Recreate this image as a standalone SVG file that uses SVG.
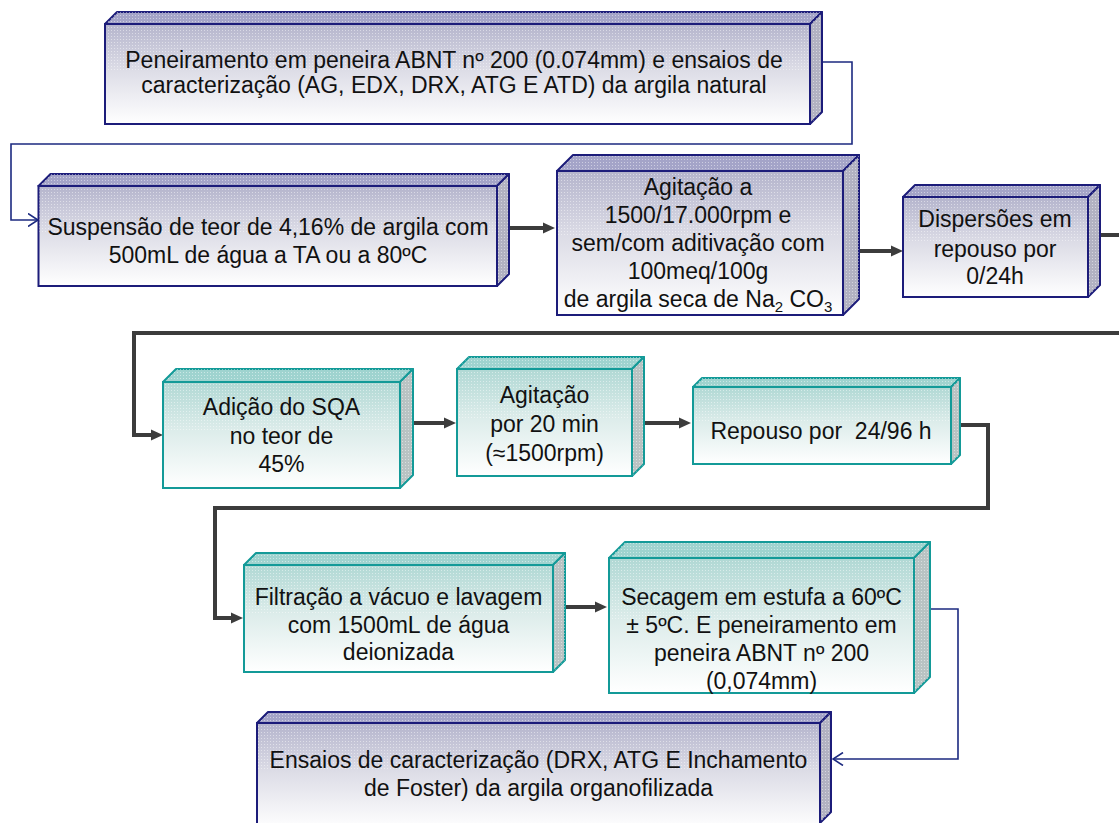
<svg xmlns="http://www.w3.org/2000/svg" width="1119" height="823" viewBox="0 0 1119 823">
<style>
  .t { font-family: "Liberation Sans", Arial, sans-serif; font-size: 23px; fill: #111; text-anchor: middle; }
  .nv .front { fill: url(#gNavy); stroke: #1c1c7a; stroke-width: 2; }
  .nv .top { fill: #a4a4c8; stroke: #1c1c7a; stroke-width: 2; stroke-linejoin: round; }
  .nv .side { fill: #b2b2c2; stroke: #1c1c7a; stroke-width: 2; stroke-linejoin: round; }
  .tl .front { fill: url(#gTeal); stroke: #139a98; stroke-width: 2; }
  .tl .top { fill: #9fd3cf; stroke: #139a98; stroke-width: 2; stroke-linejoin: round; }
  .tl .side { fill: #b9c3c3; stroke: #139a98; stroke-width: 2; stroke-linejoin: round; }
  .dots { fill: url(#pDots); stroke: none; }
  .thick { fill: none; stroke: #3c3c3c; stroke-width: 4; }
  .thin { fill: none; stroke: #1c2a80; stroke-width: 1.6; }
</style>
<defs>
  <linearGradient id="gNavy" x1="0" y1="0" x2="0" y2="1">
    <stop offset="0" stop-color="#b4b4cc"/>
    <stop offset="0.45" stop-color="#dcdce6"/>
    <stop offset="1" stop-color="#ffffff"/>
  </linearGradient>
  <linearGradient id="gTeal" x1="0" y1="0" x2="0" y2="1">
    <stop offset="0" stop-color="#b0d8d4"/>
    <stop offset="0.45" stop-color="#dcecea"/>
    <stop offset="1" stop-color="#ffffff"/>
  </linearGradient>
  <pattern id="pDots" width="3" height="3" patternUnits="userSpaceOnUse">
    <rect x="0" y="0" width="1" height="1" fill="#ffffff" fill-opacity="0.45"/>
  </pattern>
  <marker id="aThick" markerUnits="userSpaceOnUse" markerWidth="13" markerHeight="12" refX="4" refY="6" orient="auto">
    <path d="M0,0.5 L12,6 L0,11.5 z" fill="#3c3c3c"/>
  </marker>
  <marker id="aThin" markerUnits="userSpaceOnUse" markerWidth="12" markerHeight="14" refX="10.5" refY="7" orient="auto">
    <path d="M0.5,0.5 L10.5,7 L0.5,13.5" fill="none" stroke="#1c2a80" stroke-width="1.6"/>
  </marker>
</defs>
<rect x="0" y="0" width="1119" height="823" fill="#ffffff"/>

<g id="connectors">
  <path class="thin" d="M822,62 H852 V144 H11 V220 H38" marker-end="url(#aThin)"/>
  <path class="thick" d="M509,228 H547" marker-end="url(#aThick)"/>
  <path class="thick" d="M858,251 H895" marker-end="url(#aThick)"/>
  <path class="thick" d="M1100,235 H1125 V333 H134 V435 H155" marker-end="url(#aThick)"/>
  <path class="thick" d="M413,423 H448" marker-end="url(#aThick)"/>
  <path class="thick" d="M644,423 H683" marker-end="url(#aThick)"/>
  <path class="thick" d="M960,425 H988 V508 H215 V618 H235" marker-end="url(#aThick)"/>
  <path class="thick" d="M565,607 H599" marker-end="url(#aThick)"/>
  <path class="thin" d="M930,609 H958 V759 H833" marker-end="url(#aThin)"/>
</g>

<g id="n1" class="nv">
  <polygon class="top" points="105,24 117,12 822,12 810,24"/>
  <polygon class="dots" points="105,24 117,12 822,12 810,24"/>
  <polygon class="side" points="810,24 822,12 822,112 810,124"/>
  <polygon class="dots" points="810,24 822,12 822,112 810,124"/>
  <rect class="front" x="105" y="24" width="705" height="100"/>
  <rect class="dots" x="106" y="25" width="703" height="45"/>
  <text class="t" x="454" y="68">Peneiramento em peneira ABNT nº 200 (0.074mm) e ensaios de</text>
  <text class="t" x="454" y="93">caracterização (AG, EDX, DRX, ATG E ATD) da argila natural</text>
</g>

<g id="n2" class="nv">
  <polygon class="top" points="38.5,186 50.5,174 509,174 497,186"/>
  <polygon class="dots" points="38.5,186 50.5,174 509,174 497,186"/>
  <polygon class="side" points="497,186 509,174 509,274 497,286"/>
  <polygon class="dots" points="497,186 509,174 509,274 497,286"/>
  <rect class="front" x="38.5" y="186" width="458.5" height="100"/>
  <rect class="dots" x="39.5" y="187" width="456.5" height="45"/>
  <text class="t" x="268" y="235">Suspensão de teor de 4,16% de argila com</text>
  <text class="t" x="268" y="263">500mL de água a TA ou a 80ºC</text>
</g>

<g id="n3" class="nv">
  <polygon class="top" points="557,171 573,155 859,155 843,171"/>
  <polygon class="dots" points="557,171 573,155 859,155 843,171"/>
  <polygon class="side" points="843,171 859,155 859,299 843,315"/>
  <polygon class="dots" points="843,171 859,155 859,299 843,315"/>
  <rect class="front" x="557" y="171" width="286" height="144"/>
  <rect class="dots" x="558" y="172" width="284" height="65"/>
  <text class="t" x="698" y="195">Agitação a</text>
  <text class="t" x="698" y="223">1500/17.000rpm e</text>
  <text class="t" x="698" y="251">sem/com aditivação com</text>
  <text class="t" x="698" y="279">100meq/100g</text>
  <text class="t" x="698" y="307">de argila seca de Na<tspan font-size="15" dy="5">2</tspan><tspan dy="-5"> CO</tspan><tspan font-size="15" dy="5">3</tspan></text>
</g>

<g id="n4" class="nv">
  <polygon class="top" points="903,197 915,185 1100,185 1088,197"/>
  <polygon class="dots" points="903,197 915,185 1100,185 1088,197"/>
  <polygon class="side" points="1088,197 1100,185 1100,285 1088,297"/>
  <polygon class="dots" points="1088,197 1100,185 1100,285 1088,297"/>
  <rect class="front" x="903" y="197" width="185" height="100"/>
  <rect class="dots" x="904" y="198" width="183" height="45"/>
  <text class="t" x="995" y="227">Dispersões em</text>
  <text class="t" x="995" y="257">repouso por</text>
  <text class="t" x="995" y="284">0/24h</text>
</g>

<g id="n5" class="tl">
  <polygon class="top" points="163,382 176,369 413,369 400,382"/>
  <polygon class="dots" points="163,382 176,369 413,369 400,382"/>
  <polygon class="side" points="400,382 413,369 413,475 400,488"/>
  <polygon class="dots" points="400,382 413,369 413,475 400,488"/>
  <rect class="front" x="163" y="382" width="237" height="106"/>
  <rect class="dots" x="164" y="383" width="235" height="48"/>
  <text class="t" x="281.5" y="415">Adição do SQA</text>
  <text class="t" x="281.5" y="444">no teor de</text>
  <text class="t" x="281.5" y="472">45%</text>
</g>

<g id="n6" class="tl">
  <polygon class="top" points="457,369 469,357 644,357 632,369"/>
  <polygon class="dots" points="457,369 469,357 644,357 632,369"/>
  <polygon class="side" points="632,369 644,357 644,464 632,476"/>
  <polygon class="dots" points="632,369 644,357 644,464 632,476"/>
  <rect class="front" x="457" y="369" width="175" height="107"/>
  <rect class="dots" x="458" y="370" width="173" height="48"/>
  <text class="t" x="544.5" y="403">Agitação</text>
  <text class="t" x="544.5" y="432">por 20 min</text>
  <text class="t" x="544.5" y="461">(≈1500rpm)</text>
</g>

<g id="n7" class="tl">
  <polygon class="top" points="693,387 702,378 960,378 951,387"/>
  <polygon class="dots" points="693,387 702,378 960,378 951,387"/>
  <polygon class="side" points="951,387 960,378 960,455 951,464"/>
  <polygon class="dots" points="951,387 960,378 960,455 951,464"/>
  <rect class="front" x="693" y="387" width="258" height="77"/>
  <rect class="dots" x="694" y="388" width="256" height="35"/>
  <text class="t" x="821" y="439" style="white-space:pre">Repouso por  24/96 h</text>
</g>

<g id="n8" class="tl">
  <polygon class="top" points="244,565 256,553 565,553 553,565"/>
  <polygon class="dots" points="244,565 256,553 565,553 553,565"/>
  <polygon class="side" points="553,565 565,553 565,660 553,672"/>
  <polygon class="dots" points="553,565 565,553 565,660 553,672"/>
  <rect class="front" x="244" y="565" width="309" height="107"/>
  <rect class="dots" x="245" y="566" width="307" height="48"/>
  <text class="t" x="398.5" y="605">Filtração a vácuo e lavagem</text>
  <text class="t" x="398.5" y="633">com 1500mL de água</text>
  <text class="t" x="398.5" y="660">deionizada</text>
</g>

<g id="n9" class="tl">
  <polygon class="top" points="609,558 625,542 930,542 914,558"/>
  <polygon class="dots" points="609,558 625,542 930,542 914,558"/>
  <polygon class="side" points="914,558 930,542 930,677 914,693"/>
  <polygon class="dots" points="914,558 930,542 930,677 914,693"/>
  <rect class="front" x="609" y="558" width="305" height="135"/>
  <rect class="dots" x="610" y="559" width="303" height="60"/>
  <text class="t" x="761.5" y="605">Secagem em estufa a 60ºC</text>
  <text class="t" x="761.5" y="633">± 5ºC. E peneiramento em</text>
  <text class="t" x="761.5" y="661">peneira ABNT nº 200</text>
  <text class="t" x="761.5" y="689">(0,074mm)</text>
</g>

<g id="n10" class="nv">
  <polygon class="top" points="257,723 268,712 831,712 820,723"/>
  <polygon class="dots" points="257,723 268,712 831,712 820,723"/>
  <polygon class="side" points="820,723 831,712 831,812 820,823"/>
  <polygon class="dots" points="820,723 831,712 831,812 820,823"/>
  <rect class="front" x="257" y="723" width="563" height="106"/>
  <rect class="dots" x="258" y="724" width="561" height="45"/>
  <text class="t" x="538.5" y="768">Ensaios de caracterização (DRX, ATG E Inchamento</text>
  <text class="t" x="538.5" y="796">de Foster) da argila organofilizada</text>
</g>
</svg>
